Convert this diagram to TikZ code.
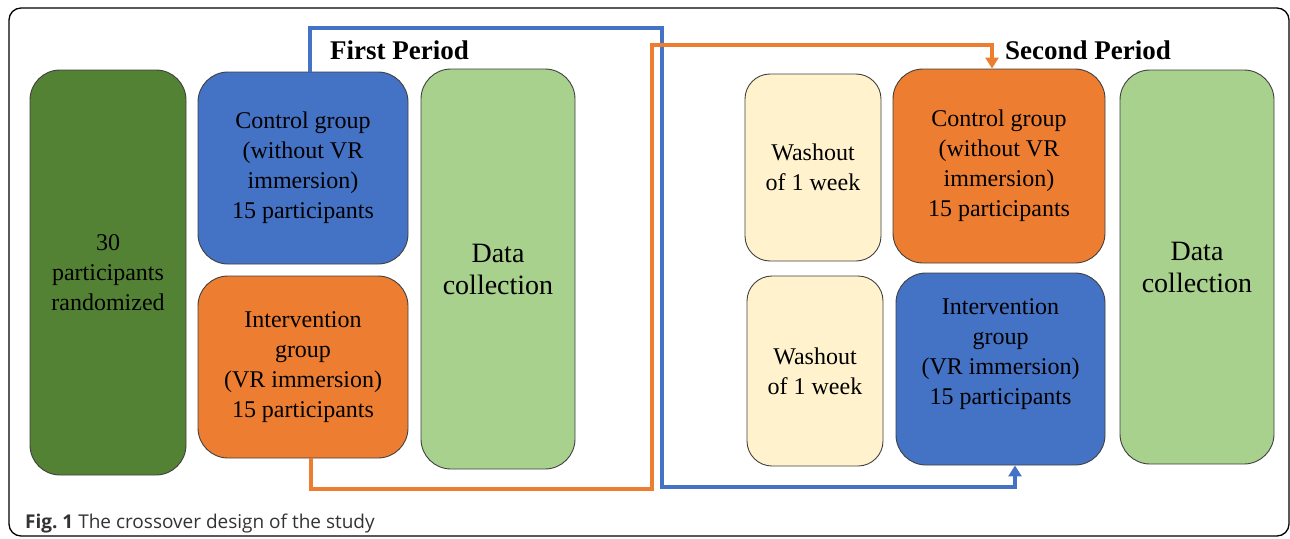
\documentclass[tikz,border=0pt]{standalone}
\usepackage{fontspec}
\setmainfont{Liberation Serif}
\newfontfamily\capfont{Open Sans}
\usetikzlibrary{arrows.meta,calc}
\definecolor{dkgreen}{HTML}{548235}
\definecolor{ctlblue}{HTML}{4472C4}
\definecolor{ivorange}{HTML}{ED7D31}
\definecolor{ltgreen}{HTML}{A9D18E}
\definecolor{cream}{HTML}{FFF2CC}
\definecolor{edge}{HTML}{404040}
\definecolor{captext}{HTML}{333333}
\tikzset{
  box/.style={draw=edge, line width=0.9pt, rounded corners=30pt, align=center,
    inner sep=0pt, font=\fontsize{24}{30}\selectfont},
  bigtext/.style={font=\fontsize{28}{32}\selectfont},
  periodtitle/.style={font=\bfseries\fontsize{27}{30}\selectfont, inner sep=0pt, anchor=west},
  flow/.style={line width=3.6pt, line join=miter},
  flowtip/.style={-{Triangle[width=13pt,length=11pt]}},
}
\begin{document}
\begin{tikzpicture}[x=1pt,y=-1pt]
\useasboundingbox (0,0) rectangle (1290,538);
% outer frame
\draw[line width=1.3pt, rounded corners=12pt] (9,8) rectangle (1289,536);

% first period
\node[box, fill=dkgreen, minimum width=156pt, minimum height=405pt] (rand) at (108,272.5)
  {30\\participants\\randomized};
\node[box, fill=ctlblue, minimum width=210pt, minimum height=192pt] (c1) at (303,168)
  {Control group\\(without VR\\immersion)\\15 participants};
\node[box, fill=ivorange, minimum width=210pt, minimum height=182pt] (i1) at (303,367)
  {Intervention\\group\\(VR immersion)\\15 participants};
\node[box, bigtext, fill=ltgreen, minimum width=154pt, minimum height=400pt] (d1) at (498,269)
  {Data\\collection};
\node[periodtitle] (p1) at (330,50) {First Period};

% second period
\node[box, fill=cream, rounded corners=25pt, minimum width=136pt, minimum height=187pt] (w1) at (813,167.5)
  {Washout\\of 1 week};
\node[box, fill=cream, rounded corners=25pt, minimum width=136pt, minimum height=190pt] (w2) at (815,371)
  {Washout\\of 1 week};
\node[box, fill=ivorange, minimum width=212pt, minimum height=194pt] (c2) at (999,166)
  {Control group\\(without VR\\immersion)\\15 participants};
\node[box, fill=ctlblue, minimum width=209pt, minimum height=192pt] (i2) at (1000.5,369) {};
\node[align=center, inner sep=0pt, font=\fontsize{24}{30}\selectfont] (i2text) at ($(i2.center)+(0,-15)$)
  {Intervention\\group\\(VR immersion)\\15 participants};
\node[box, bigtext, fill=ltgreen, minimum width=154pt, minimum height=394pt] (d2) at (1197,267)
  {Data\\collection};
\node[periodtitle] (p2) at (1005,50) {Second Period};

% crossover paths
\coordinate (bstart) at ($(c1.north)+(7,0)$);
\coordinate (bend) at ($(i2.south)+(14.5,0)$);
\draw[flow, ctlblue, flowtip] (bstart) |- (662,28) -- (662,487) -| (bend);
\coordinate (ostart) at ($(i1.south)+(8,0)$);
\coordinate (oend) at ($(c2.north)+(-7,0)$);
\draw[flow, ivorange, flowtip] (ostart) |- (652,489) -- (652,45) -| (oend);

% caption
\node[anchor=base west, inner sep=0pt, text=captext, font=\capfont\fontsize{19}{22}\selectfont] (cap) at (25,528)
  {\textbf{Fig.\ 1} The crossover design of the study};
\end{tikzpicture}
\end{document}
